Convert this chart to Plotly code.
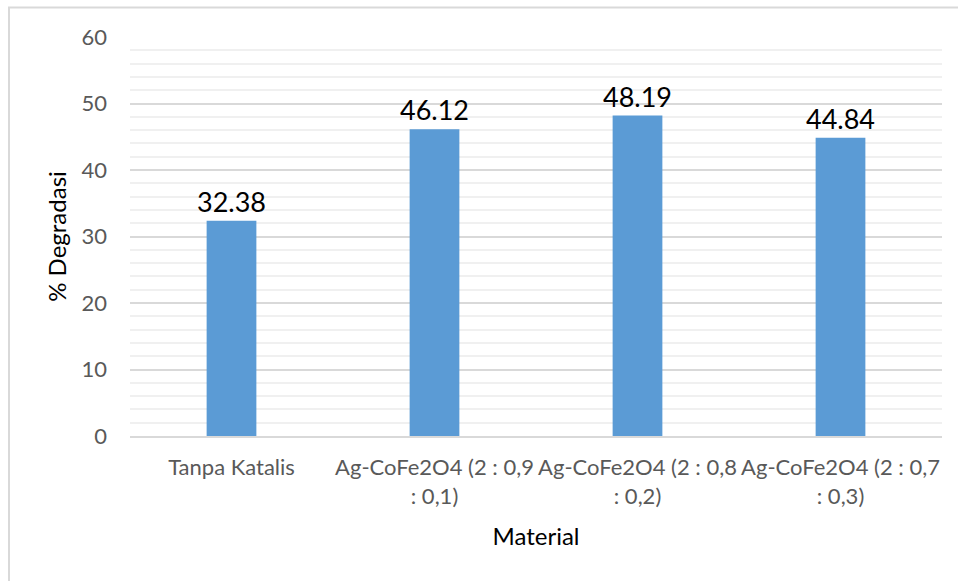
import plotly.graph_objects as go

# Degradation results per material
materials = [
    "Tanpa Katalis",
    "Ag-CoFe2O4 (2 : 0,9<br>: 0,1)",
    "Ag-CoFe2O4 (2 : 0,8<br>: 0,2)",
    "Ag-CoFe2O4 (2 : 0,7<br>: 0,3)",
]
degradasi = [32.38, 46.12, 48.19, 44.84]
y_ticks = [0, 10, 20, 30, 40, 50, 60]

FONT = "Lato, Carlito, Calibri, sans-serif"

fig = go.Figure(
    go.Bar(
        x=materials,
        y=degradasi,
        marker=dict(color="#5B9BD5", line=dict(width=0)),
        width=0.245,
        text=[f"{v:.2f}" for v in degradasi],
        textposition="outside",
        constraintext="none",
        textfont=dict(family=FONT, size=27, color="#000000"),
        cliponaxis=False,
        hoverinfo="x+y",
    )
)

W, H = 958, 581
L, R, T, B = 130, 16, 37, 145
pw, ph = W - L - R, H - T - B


def px_x(x):
    return (x - L) / pw


def px_y(y):
    return (H - B - y) / ph


fig.update_layout(
    width=W,
    height=H,
    margin=dict(l=L, r=R, t=T, b=B),
    paper_bgcolor="#FFFFFF",
    plot_bgcolor="#FFFFFF",
    showlegend=False,
    bargap=0.5,
    font=dict(family=FONT, color="#595959"),
    xaxis=dict(
        showgrid=False,
        showline=True,
        linecolor="#D9D9D9",
        linewidth=1.5,
        ticks="",
        tickangle=0,
        ticklabelstandoff=11,
        tickfont=dict(family=FONT, size=22, color="#595959"),
        title=dict(text="Material", font=dict(family=FONT, size=24, color="#000000"), standoff=20),
    ),
    yaxis=dict(
        range=[0, 60],
        tickvals=y_ticks,
        showgrid=True,
        gridcolor="#D9D9D9",
        gridwidth=1.5,
        zeroline=False,
        showline=False,
        ticks="",
        ticklabelstandoff=22,
        tickfont=dict(family=FONT, size=22, color="#595959"),
        minor=dict(dtick=2, showgrid=True, gridcolor="#F0F0F0", gridwidth=1.5),
        title=dict(text="% Degradasi", font=dict(family=FONT, size=24, color="#000000"), standoff=8),
    ),
    shapes=[
        dict(
            type="rect",
            xref="paper",
            yref="paper",
            x0=px_x(9),
            x1=px_x(W + 20),
            y0=px_y(H + 20),
            y1=px_y(7.5),
            line=dict(color="#D9D9D9", width=2),
            fillcolor="rgba(0,0,0,0)",
            layer="below",
        )
    ],
)

fig.write_html("out.html")
